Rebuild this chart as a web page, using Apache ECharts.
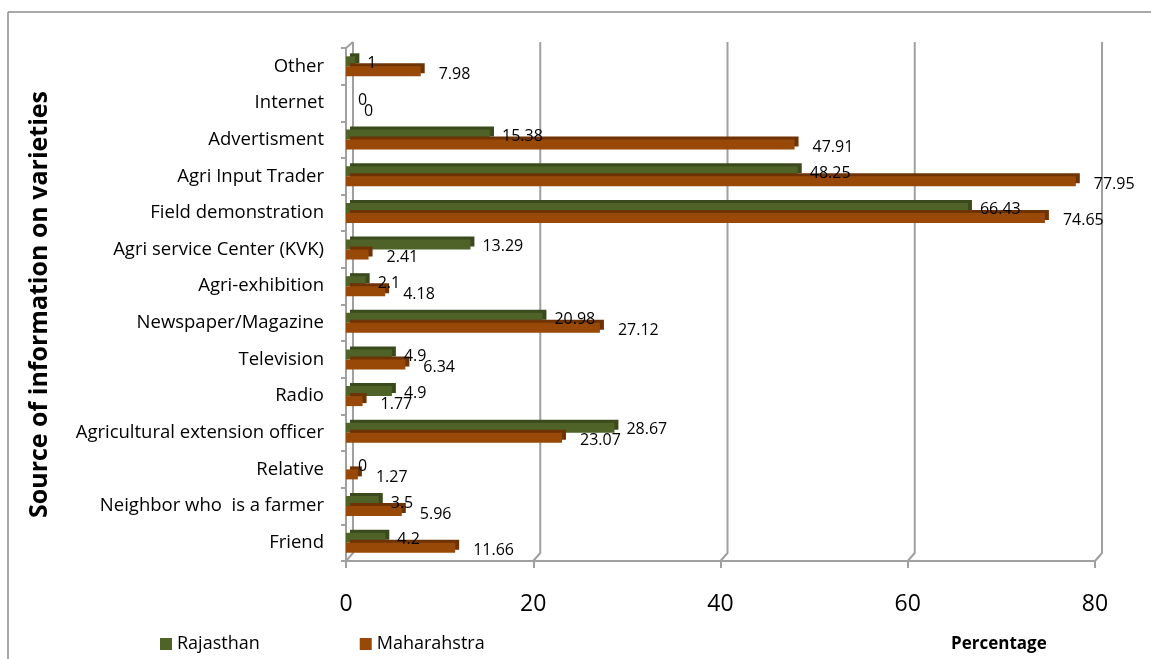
<!DOCTYPE html>
<html>
<head>
<meta charset="utf-8">
<script src="https://cdn.jsdelivr.net/npm/echarts@6/dist/echarts.min.js"></script>
<style>
html,body{margin:0;padding:0;background:#fff;}
#chart{width:1151px;height:659px;}
</style>
</head>
<body>
<div id="chart"></div>
<script>
const categories = ['Friend','Neighbor who  is a farmer','Relative','Agricultural extension officer','Radio','Television','Newspaper/Magazine','Agri-exhibition','Agri service Center (KVK)','Field demonstration','Agri Input Trader','Advertisment','Internet','Other'];
const rajasthan = [4.2,3.5,0,28.67,4.9,4.9,20.98,2.1,13.29,66.43,48.25,15.38,0,1];
const maharashtra = [11.66,5.96,1.27,23.07,1.77,6.34,27.12,4.18,2.41,74.65,77.95,47.91,0,7.98];
const xTicks = [0,20,40,60,80];
const seriesNames = ['Rajasthan','Maharahstra'];

const FONT = '"Open Sans", "Noto Sans", sans-serif';
const GRID = {left:346, right:56, top:48, bottom:98};
const H = 659;
const gray = '#a0a0a0';

const chart = echarts.init(document.getElementById('chart'), null, {renderer:'canvas'});

const option = {
  backgroundColor:'#fff',
  animation:false,
  textStyle:{fontFamily:FONT},
  grid:GRID,
  legend:{
    data:seriesNames,
    left:155, top:630,
    itemWidth:12, itemHeight:12, itemGap:100,
    icon:'rect',
    textStyle:{fontSize:18, color:'#000', fontFamily:FONT}
  },
  title:{
    text:'Percentage',
    left:946, top:631,
    textStyle:{fontSize:17, fontWeight:'bold', color:'#000', fontFamily:FONT}
  },
  xAxis:{
    type:'value', min:xTicks[0], max:xTicks[xTicks.length-1], interval:20,
    axisLine:{show:true, lineStyle:{color:gray, width:2}},
    axisTick:{show:true, length:7, lineStyle:{color:gray, width:2}},
    splitLine:{show:false},
    axisLabel:{fontSize:23, color:'#000', margin:32, fontFamily:FONT}
  },
  yAxis:{
    type:'category', data:categories,
    name:'Source of information on varieties',
    nameLocation:'middle', nameRotate:90, nameGap:294,
    nameTextStyle:{fontSize:25, fontWeight:'bold', color:'#000', fontFamily:FONT},
    axisLine:{show:true, lineStyle:{color:gray, width:2}},
    axisTick:{show:true, length:5, lineStyle:{color:gray, width:2}},
    axisLabel:{fontSize:18.5, color:'#000', margin:22, fontFamily:FONT}
  },
  series:[
    {
      name:seriesNames[0], type:'bar', data:rajasthan,
      barWidth:10, barGap:'0%',
      itemStyle:{color:'#4f6228', shadowColor:'#3a4a1c', shadowBlur:0, shadowOffsetX:4, shadowOffsetY:-3},
      label:{show:true, position:'right', distance:12, offset:[0,2], fontSize:16, color:'#000', fontFamily:FONT}
    },
    {
      name:seriesNames[1], type:'bar', data:maharashtra,
      barWidth:10, barGap:'0%',
      itemStyle:{color:'#984807', shadowColor:'#6e3305', shadowBlur:0, shadowOffsetX:4, shadowOffsetY:-3},
      label:{show:true, position:'right', distance:18, offset:[0,3], fontSize:16, color:'#000', fontFamily:FONT}
    }
  ]
};
chart.setOption(option);

// 3D-style back wall lines derived from the axis scale
const bottomY = H - GRID.bottom;
const topY = GRID.top;
const depth = 7;
const gfx = [];
xTicks.forEach(v => {
  const x = chart.convertToPixel({xAxisIndex:0}, v);
  gfx.push({
    type:'polyline', silent:true, z:-1,
    shape:{points:[[x, bottomY],[x+depth, bottomY-8],[x+depth, topY-6]]},
    style:{stroke:gray, lineWidth:2, fill:null}
  });
});
const x0 = chart.convertToPixel({xAxisIndex:0}, 0);
gfx.push({type:'line', silent:true, z:-1, shape:{x1:x0, y1:topY, x2:x0+depth, y2:topY-6}, style:{stroke:gray, lineWidth:2}});
// outer frame
gfx.push({type:'line', silent:true, shape:{x1:8, y1:12, x2:1151, y2:12}, style:{stroke:'#8c8c8c', lineWidth:1.5}});
gfx.push({type:'line', silent:true, shape:{x1:8, y1:12, x2:8, y2:659}, style:{stroke:'#8c8c8c', lineWidth:1.5}});
chart.setOption({graphic:gfx});
</script>
</body>
</html>
